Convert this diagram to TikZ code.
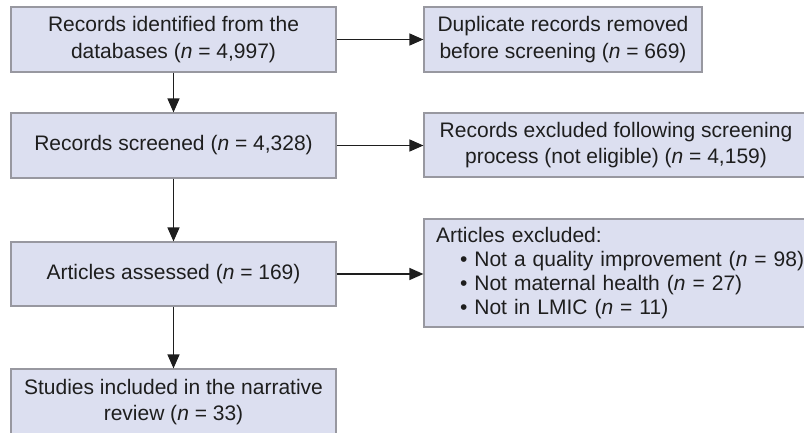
\documentclass[tikz,border=0pt]{standalone}
\usepackage{fontspec}
\setmainfont{Liberation Sans}
\usetikzlibrary{positioning, arrows.meta}
\definecolor{boxfill}{RGB}{220,223,240}
\definecolor{boxline}{RGB}{152,152,160}
\definecolor{ink}{RGB}{30,30,30}

\begin{document}
\begin{tikzpicture}[x=1pt, y=-1pt,
    every node/.style={font=\fontsize{21}{26.7}\selectfont, text=ink},
    box/.style={draw=boxline, fill=boxfill, line width=1.2pt, inner sep=0pt,
                align=center, minimum height=65pt},
    arr/.style={draw=ink, line width=1.4pt, -{Triangle[length=14pt, width=12pt]}}]
      \useasboundingbox (0,0) rectangle (804,432);
      % main column
      \node[box, minimum width=325pt] (ident) at (173.5,39.5)
            {Records identified from the\\databases (\textit{n} = 4,997)};
      \node[box, minimum width=325pt] (screened) at (173.5,145.5)
            {Records screened (\textit{n} = 4,328)};
      \node[box, minimum width=325pt, minimum height=64pt] (assessed) at (173.5,274)
            {Articles assessed (\textit{n} = 169)};
      \node[box, minimum width=325pt, minimum height=66pt] (included) at (173.5,402)
            {Studies included in the narrative\\review (\textit{n} = 33)};
      % exclusions
      \node[box, minimum width=278pt] (dup) at (563,39.5)
            {Duplicate records removed\\before screening (\textit{n} = 669)};
      \node[box, minimum width=384pt, minimum height=64pt] (excl) at (616,145)
            {Records excluded following screening\\process (not eligible) (\textit{n} = 4,159)};
      \node[box, minimum width=384pt, minimum height=108pt, text width=372pt,
            inner xsep=12pt, align=left,
            font=\fontsize{21}{24.2}\selectfont] (artexcl) at (622,273)
            {Articles excluded:\\
             \hspace*{24pt}• Not a quality improvement (\textit{n} = 98)\\
             \hspace*{24pt}• Not maternal health (\textit{n} = 27)\\
             \hspace*{24pt}• Not in LMIC (\textit{n} = 11)};
      \draw[arr] (ident) -- (screened);
      \draw[arr] (screened) -- (assessed);
      \draw[arr] (assessed) -- (included);
      \draw[arr] (ident.east) -- (ident.east -| dup.west);
      \draw[arr] (screened.east) -- (screened.east -| excl.west);
      \draw[arr] (assessed.east) -- (assessed.east -| artexcl.west);
\end{tikzpicture}
\end{document}
